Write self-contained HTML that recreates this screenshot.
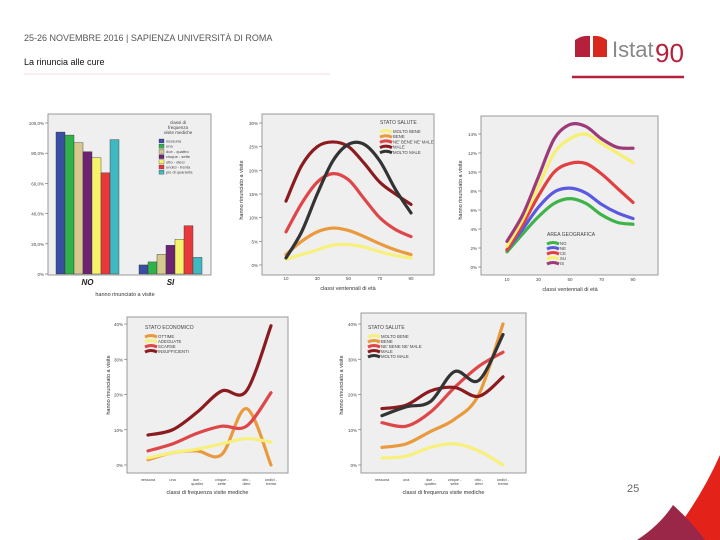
<!DOCTYPE html>
<html><head><meta charset="utf-8">
<style>
body{margin:0;background:#fff;}
#root{position:relative;width:720px;height:540px;overflow:hidden;font-family:"Liberation Sans",sans-serif;background:#fff;}
svg text{font-family:"Liberation Sans",sans-serif;}
</style></head>
<body>
<div id="root">
<svg id="s" width="720" height="540" viewBox="0 0 720 540" xmlns="http://www.w3.org/2000/svg">
<text x="24" y="41" font-size="9" fill="#555">25-26 NOVEMBRE 2016 | SAPIENZA UNIVERSITÀ DI ROMA</text>
<text x="24" y="65" font-size="9" fill="#111">La rinuncia alle cure</text>
<line x1="24" y1="74" x2="330" y2="74" stroke="#f6dde2" stroke-width="1"/>
<g>
<path d="M575 40 Q582 35 590 36 L590 57 L575 57 Z" fill="#b5203a"/>
<path d="M593 36 Q600 35 607 40 L607 57 L593 57 Z" fill="#d8281e"/>
<text x="612" y="57" font-size="22" fill="#888" font-family="Liberation Serif">Istat</text>
<text x="655" y="62" font-size="26" fill="#b5203a" font-family="Liberation Serif">90</text>
<line x1="572" y1="77" x2="684" y2="77" stroke="#b5203a" stroke-width="2.5"/>
</g>
<g>
<path d="M720 455 Q700 500 668 540 L720 540 Z" fill="#e32219"/>
<path d="M637 540 Q660 525 673 505 Q690 520 705 540 Z" fill="#9a2747"/>
</g>
<text x="627" y="492" font-size="11" fill="#666">25</text>
<g id="charts"></g>
</svg>
</div>
<script>
// ---- Chart 1 data ----
const c1Categories=["NO","SI"];
const c1Series=["nessuna","una","due - quattro","cinque - sette","otto - dieci","undici - trenta","più di quaranta"];
const c1Colors=["#3a4ea2","#2fb24a","#d5c98f","#6c2373","#f7f46c","#e9383b","#40b8c1"];
const c1NO=[94,92,87,81,77,67,89];
const c1SI=[6,8,13,19,23,32,11];
const c1Ticks=["0%","20,0%","40,0%","60,0%","80,0%","100,0%"];
// ---- Chart 2 data ----
const ageX=[10,20,30,40,50,60,70,80,90];
const ageTicks=[10,30,50,70,90];
const c2Names=["MOLTO BENE","BENE","NE' BENE NE' MALE","MALE","MOLTO MALE"];
const c2Colors=["#f7f07c","#e99a3c","#df4649","#8b1b1f","#333333"];
const c2MoltoBene=[1.2,2.2,3.2,4.2,4.3,3.8,2.8,2,1.5];
const c2Bene=[2.2,5,7,7.8,7.3,6,4.5,3.2,2.2];
const c2Nbnm=[7,13,17.5,19.3,18,14,10,7.5,6];
const c2Male=[13.5,21,25,26,25,21.5,17.5,15,12.8];
const c2MoltoMale=[1.5,7,15,22,25.5,25.5,22,16,11];
const c2Ticks=[0,5,10,15,20,25,30];
// ---- Chart 3 data ----
const c3Names=["NO","NE","CE","SU","IS"];
const c3Colors=["#3db34a","#5a5ae0","#e04040","#f7ef70","#9c3a7a"];
const c3NO=[1.6,3.5,5.3,6.7,7.2,6.7,5.5,4.7,4.5];
const c3NE=[1.8,4,6.3,7.9,8.3,7.8,6.6,5.7,5.1];
const c3CE=[1.8,4.5,7.5,10,10.9,10.9,9.8,8.3,6.8];
const c3SU=[2.2,5,8.5,12,13.5,14,13,12,11];
const c3IS=[2.7,5.5,9.5,13.5,15,14.8,13.5,12.6,12.5];
const c3Ticks=[0,2,4,6,8,10,12,14];
// ---- Chart 4/5 data ----
const freqCats=["nessuna","una","due - quattro","cinque - sette","otto - dieci","undici - trenta"];
const c4Names=["OTTIME","ADEGUATE","SCARSE","INSUFFICIENTI"];
const c4Colors=["#e99a3c","#f7f07c","#df4649","#8b1b1f"];
const c4Ottime=[1.5,3.5,4,3,16,0];
const c4Adeguate=[2,3.5,4.5,6,7.5,6.5];
const c4Scarse=[4,6,9,11,11,20.5];
const c4Insuff=[8.5,10,15,21,21,39.5];
const c5Names=c2Names;
const c5Colors=c2Colors;
const c5MoltoBene=[2,2.5,5,6,4,0];
const c5Bene=[5,6,9.5,13,20,40];
const c5Nbnm=[12,11,15,22,28,32];
const c5Male=[16,17,21,22,19.5,25];
const c5MoltoMale=[14,16.5,18,26.5,24,37];
const c45Ticks=[0,10,20,30,40];

const NS="http://www.w3.org/2000/svg";
const root=document.getElementById('charts');
function mk(tag,attrs,parent){const e=document.createElementNS(NS,tag);for(const k in attrs)e.setAttribute(k,attrs[k]);(parent||root).appendChild(e);return e;}
function txt(x,y,s,size,fill,anchor,parent,rot){const t=mk('text',{x:x,y:y,'font-size':size,fill:fill||'#333','text-anchor':anchor||'start'},parent);if(rot)t.setAttribute('transform','rotate(-90 '+x+' '+y+')');t.textContent=s;return t;}
function lin(d0,d1,r0,r1){return v=>r0+(v-d0)/(d1-d0)*(r1-r0);}
function smooth(pts){let d='M'+pts[0][0]+' '+pts[0][1];for(let i=0;i<pts.length-1;i++){const p0=pts[Math.max(0,i-1)],p1=pts[i],p2=pts[i+1],p3=pts[Math.min(pts.length-1,i+2)];const c1x=p1[0]+(p2[0]-p0[0])/6,c1y=p1[1]+(p2[1]-p0[1])/6,c2x=p2[0]-(p3[0]-p1[0])/6,c2y=p2[1]-(p3[1]-p1[1])/6;d+=' C'+c1x+' '+c1y+' '+c2x+' '+c2y+' '+p2[0]+' '+p2[1];}return d;}
function frame(x0,y0,x1,y1,g){const r=mk('rect',{x:x0,y:y0,width:x1-x0,height:y1-y0,fill:'#efefef',stroke:'#999','stroke-width':1},g);}
function yAxis(g,ticks,ys,x0,labels){ticks.forEach((t,i)=>{const y=ys(t);mk('line',{x1:x0-3,y1:y,x2:x0,y2:y,stroke:'#666','stroke-width':0.6},g);const l=txt(x0-4,y+2,labels?labels[i]:t+'%',4.5,'#444','end',g);});}
function legend(g,x,y,title,names,colors,step){const t=txt(x,y,title,5,'#444','start',g);names.forEach((n,i)=>{const yy=y+7+i*step;const e=mk('g',{},g);mk('path',{d:'M'+x+' '+(yy+1)+' q6 -3 12 0',stroke:colors[i],'stroke-width':3,fill:'none'},e);txt(x+13,yy+2,n,4.3,'#444','start',e);});}
function lines(g,xs,sx,sy,series,colors,names){series.forEach((s,i)=>{const p=mk('path',{d:smooth(s.map((v,j)=>[sx(xs[j]),sy(v)])),stroke:colors[i],'stroke-width':3.2,fill:'none','stroke-linecap':'round'},g);});}

// Chart 1
(function(){const g=mk('g',{});
const x0=48,x1=211,y0=114,y1=275;frame(x0,y0,x1,y1,g);
const sy=lin(0,100,274,123);
yAxis(g,[0,20,40,60,80,100],sy,x0,c1Ticks);
const groups=[c1NO,c1SI],starts=[56,139],bw=9;
groups.forEach((vals,gi)=>{vals.forEach((v,i)=>{const r=mk('rect',{x:starts[gi]+i*bw,y:sy(v),width:bw,height:sy(0)-sy(v),fill:c1Colors[i],stroke:'#333','stroke-width':0.4},g);});
const c=txt(starts[gi]+bw*3.5,285,c1Categories[gi],8,'#222','middle',g);c.setAttribute('font-style','italic');c.setAttribute('font-weight','bold');});
const xt=txt(125,296,'hanno rinunciato a visite',5.5,'#333','middle',g);
const lg=mk('g',{},g);
txt(178,124,'classi di',4.5,'#444','middle',lg);txt(178,129,'frequenza',4.5,'#444','middle',lg);txt(178,134,'visite mediche',4.5,'#444','middle',lg);
c1Series.forEach((n,i)=>{const yy=139+i*5.2;mk('rect',{x:159,y:yy,width:5,height:4,fill:c1Colors[i],stroke:'#333','stroke-width':0.3},lg);txt(166,yy+3.5,n,4,'#444','start',lg);});
})();

// Chart 2
(function(){const g=mk('g',{});
const x0=262,x1=434,y0=114,y1=275;frame(x0,y0,x1,y1,g);
const sy=lin(0,30,265,123),sx=lin(10,90,286,411);
yAxis(g,c2Ticks,sy,x0);
ageTicks.forEach(t=>{const l=txt(sx(t),280,t,4.5,'#444','middle',g);});
const xt=txt(348,290,'classi ventennali di età',5.5,'#333','middle',g);
const yt=txt(243,190,'hanno rinunciato a visite',5.5,'#333','middle',g,true);
legend(g,380,124,'STATO SALUTE',c2Names,c2Colors,5.2);
lines(g,ageX,sx,sy,[c2MoltoBene,c2Bene,c2Nbnm,c2Male,c2MoltoMale],c2Colors,c2Names);
})();

// Chart 3
(function(){const g=mk('g',{});
const x0=481,x1=658,y0=116,y1=275;frame(x0,y0,x1,y1,g);
const sy=lin(0,14,267,134),sx=lin(10,90,507,633);
yAxis(g,c3Ticks,sy,x0);
ageTicks.forEach(t=>{const l=txt(sx(t),281,t,4.5,'#444','middle',g);});
const xt=txt(570,291,'classi ventennali di età',5.5,'#333','middle',g);
const yt=txt(462,190,'hanno rinunciato a visite',5.5,'#333','middle',g,true);
lines(g,ageX,sx,sy,[c3NO,c3NE,c3CE,c3SU,c3IS],c3Colors,c3Names);
legend(g,547,236,'AREA GEOGRAFICA',c3Names,c3Colors,5);
})();

// Chart 4 & 5
function freqChart(name,x0,x1,y0,y1,catX0,catX1,ytx,legX,legTitle,names,colors,series){
const g=mk('g',{});
frame(x0,y0,x1,y1,g);
const sy=lin(0,40,465,324),sx=lin(0,5,catX0,catX1);
yAxis(g,c45Ticks,sy,x0);
freqCats.forEach((c,i)=>{const parts=c.split(' - ');const l=txt(sx(i),481,parts.length>1?parts[0]+' -':c,3.8,'#444','middle',g);if(parts.length>1)txt(sx(i),485,parts[1],3.8,'#444','middle',g);});
const xt=txt((x0+x1)/2,494,'classi di frequenza visite mediche',5.5,'#333','middle',g);
const yt=txt(ytx,385,'hanno rinunciato a visite',5.5,'#333','middle',g,true);
legend(g,legX,329,legTitle,names,colors,5);
lines(g,[0,1,2,3,4,5],sx,sy,series,colors,names);
}
freqChart('line-chart-stato-economico',127,288,317,473,148,271,110,145,'STATO ECONOMICO',c4Names,c4Colors,[c4Ottime,c4Adeguate,c4Scarse,c4Insuff]);
freqChart('line-chart-stato-salute-frequenza',361,526,313,473,382,503,343,368,'STATO SALUTE',c5Names,c5Colors,[c5MoltoBene,c5Bene,c5Nbnm,c5Male,c5MoltoMale]);
</script>
</body></html>
